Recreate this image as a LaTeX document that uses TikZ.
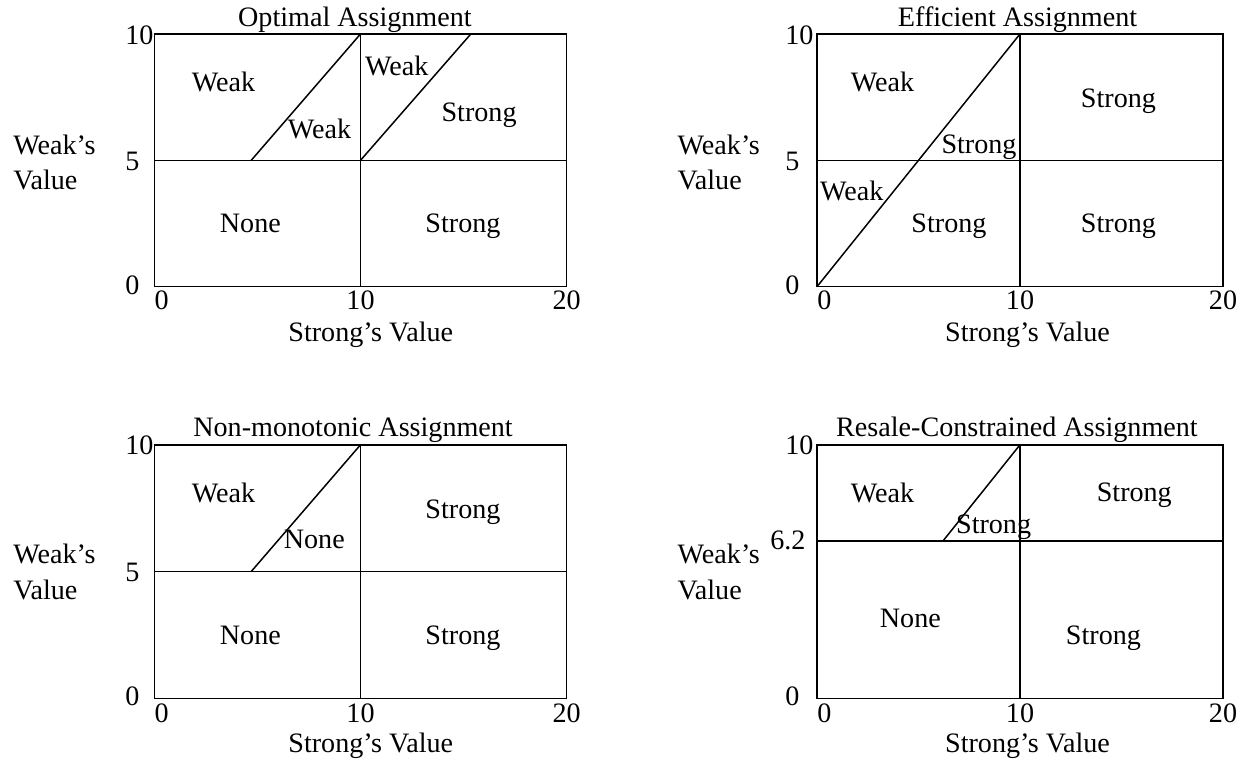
\documentclass[tikz,border=0pt]{standalone}
\usepackage{fontspec}
\setmainfont{Liberation Serif}
\usepackage{tikz}
\usetikzlibrary{positioning}

\begin{document}
\begin{tikzpicture}[frame/.style={line width=0.85pt},
  region/.style={anchor=base,inner sep=0pt,font=\fontsize{16}{19}\selectfont},
  heading/.style={region},
  axislabel/.style={region},
  xtick/.style={region},
  ytick/.style={region,anchor=base west}]
\useasboundingbox (0,0) rectangle (25.02,15.3);

% optimal
\begin{scope}[shift={(3.086cm,9.566cm)},x=0.4124cm,y=0.5054cm]
\draw[frame] (0,0) rectangle (20,10);
\draw[frame] (0,5)--(20,5);
\draw[frame] (10,0)--(10,10);
\draw[frame] (4.7,5)--(10,10);
\draw[frame] (10,5)--(15.35,10);
\node[heading] (opt-title) at (9.73,10.29) {Optimal Assignment};
\node[region] (opt-weak-a) at (3.36,7.72) {Weak};
\node[region] (opt-weak-b) at (8.01,5.88) {Weak};
\node[region] (opt-weak-c) at (11.76,8.37) {Weak};
\node[region] (opt-strong-a) at (15.75,6.52) {Strong};
\node[region] (opt-none) at (4.66,2.13) {None};
\node[region] (opt-strong-b) at (14.97,2.13) {Strong};
\node[ytick] (opt-y10) at (-1.42,9.6) {10};
\node[ytick] (opt-y5) at (-1.42,4.6) {5};
\node[ytick] (opt-y0) at (-1.42,-0.3) {0};
\node[xtick,anchor=base west] (opt-x0) at (0,-0.92) {0};
\node[xtick] (opt-x10) at (10,-0.92) {10};
\node[xtick] (opt-x20) at (20,-0.92) {20};
\node[axislabel] (opt-xlab) at (10.5,-2.17) {Strong’s Value};
\node[axislabel,anchor=base west] (opt-ylab) at (-6.85,5.25) {Weak’s};
\node[axislabel,anchor=base west] (opt-yval) at (-6.85,3.84) {Value};
\end{scope}

% efficient
\begin{scope}[shift={(16.34cm,9.566cm)},x=0.406cm,y=0.5054cm]
\draw[frame] (0,0) rectangle (20,10);
\draw[frame] (0,5)--(20,5);
\draw[frame] (10,0)--(10,10);
\draw[frame] (0,0)--(10,10);
\node[heading] (eff-title) at (9.88,10.29) {Efficient Assignment};
\node[region] (eff-weak-a) at (3.23,7.72) {Weak};
\node[region] (eff-strong-a) at (14.85,7.11) {Strong};
\node[region] (eff-strong-b) at (7.98,5.27) {Strong};
\node[region] (eff-weak-b) at (1.71,3.42) {Weak};
\node[region] (eff-strong-c) at (6.5,2.15) {Strong};
\node[region] (eff-strong-d) at (14.85,2.15) {Strong};
\node[ytick] (eff-y10) at (-1.58,9.6) {10};
\node[ytick] (eff-y5) at (-1.58,4.6) {5};
\node[ytick] (eff-y0) at (-1.58,-0.3) {0};
\node[xtick,anchor=base west] (eff-x0) at (0,-0.92) {0};
\node[xtick] (eff-x10) at (10,-0.92) {10};
\node[xtick] (eff-x20) at (20,-0.92) {20};
\node[axislabel] (eff-xlab) at (10.37,-2.17) {Strong’s Value};
\node[axislabel,anchor=base west] (eff-ylab) at (-6.88,5.25) {Weak’s};
\node[axislabel,anchor=base west] (eff-yval) at (-6.88,3.84) {Value};
\end{scope}

% non-monotonic
\begin{scope}[shift={(3.086cm,1.334cm)},x=0.4124cm,y=0.507cm]
\draw[frame] (0,0) rectangle (20,10);
\draw[frame] (0,5)--(20,5);
\draw[frame] (10,0)--(10,10);
\draw[frame] (4.7,5)--(10,10);
\node[heading] (non-title) at (9.64,10.33) {Non-monotonic Assignment};
\node[region] (non-weak) at (3.36,7.73) {Weak};
\node[region] (non-strong-a) at (14.97,7.1) {Strong};
\node[region] (non-none-a) at (7.76,5.9) {None};
\node[region] (non-none-b) at (4.66,2.13) {None};
\node[region] (non-strong-b) at (14.97,2.13) {Strong};
\node[ytick] (non-y10) at (-1.42,9.6) {10};
\node[ytick] (non-y5) at (-1.42,4.6) {5};
\node[ytick] (non-y0) at (-1.42,-0.3) {0};
\node[xtick,anchor=base west] (non-x0) at (0,-0.95) {0};
\node[xtick] (non-x10) at (10,-0.95) {10};
\node[xtick] (non-x20) at (20,-0.95) {20};
\node[axislabel] (non-xlab) at (10.5,-2.14) {Strong’s Value};
\node[axislabel,anchor=base west] (non-ylab) at (-6.85,5.3) {Weak’s};
\node[axislabel,anchor=base west] (non-yval) at (-6.85,3.9) {Value};
\end{scope}

% resale-constrained
\begin{scope}[shift={(16.34cm,1.334cm)},x=0.406cm,y=0.507cm]
\draw[frame] (0,0) rectangle (20,10);
\draw[frame] (0,6.2)--(20,6.2);
\draw[frame] (10,0)--(10,10);
\draw[frame] (6.2,6.2)--(10,10);
\node[heading] (res-title) at (9.85,10.33) {Resale-Constrained Assignment};
\node[region] (res-weak) at (3.23,7.73) {Weak};
\node[region] (res-strong-a) at (15.63,7.77) {Strong};
\node[region] (res-strong-b) at (8.7,6.52) {Strong};
\node[region] (res-none) at (4.6,2.78) {None};
\node[region] (res-strong-c) at (14.11,2.13) {Strong};
\node[ytick] (res-y10) at (-1.58,9.6) {10};
\node[ytick] (res-y62) at (-2.32,5.88) {6.2};
\node[ytick] (res-y0) at (-1.58,-0.3) {0};
\node[xtick,anchor=base west] (res-x0) at (0,-0.95) {0};
\node[xtick] (res-x10) at (10,-0.95) {10};
\node[xtick] (res-x20) at (20,-0.95) {20};
\node[axislabel] (res-xlab) at (10.37,-2.14) {Strong’s Value};
\node[axislabel,anchor=base west] (res-ylab) at (-6.88,5.3) {Weak’s};
\node[axislabel,anchor=base west] (res-yval) at (-6.88,3.9) {Value};
\end{scope}
\end{tikzpicture}
\end{document}
